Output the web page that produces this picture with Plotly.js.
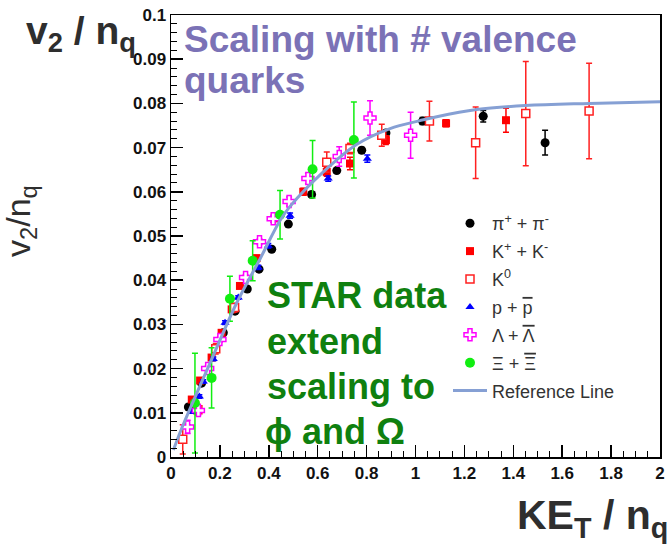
<!DOCTYPE html>
<html>
<head>
<meta charset="utf-8">
<script src="https://cdn.plot.ly/plotly-3.0.1.min.js"></script>
<style>html,body{margin:0;padding:0;background:#fff;}#chart{width:672px;height:548px;}</style>
</head>
<body>
<div id="chart"></div>
<script>
// ---- data ----
const pionX = [0.071, 0.125, 0.214, 0.262, 0.312, 0.360, 0.412, 0.480, 0.575, 0.678, 0.780, 0.879, 1.029, 1.277, 1.530];
const pionY = [0.0113, 0.0167, 0.0281, 0.0330, 0.0380, 0.0425, 0.0470, 0.0527, 0.0594, 0.0648, 0.0694, 0.0733, 0.0760, 0.0771, 0.0711];
const pionErr = [0.0004, 0.0004, 0.0004, 0.0004, 0.0004, 0.0004, 0.0004, 0.0004, 0.0005, 0.0005, 0.0006, 0.0006, 0.0008, 0.0013, 0.0028];

const kchX = [0.085, 0.119, 0.166, 0.207, 0.248, 0.282, 0.350, 0.432, 0.541, 0.637, 0.732, 0.879, 1.125, 1.370];
const kchY = [0.0130, 0.0173, 0.0225, 0.0281, 0.0334, 0.0387, 0.0450, 0.0540, 0.0600, 0.0645, 0.0664, 0.0717, 0.0755, 0.0762];
const kchErr = [0.0004, 0.0004, 0.0004, 0.0004, 0.0004, 0.0005, 0.0005, 0.0006, 0.0008, 0.0010, 0.0014, 0.0010, 0.0008, 0.0027];

const k0X = [0.048, 0.110, 0.183, 0.260, 0.637, 0.732, 0.862, 1.057, 1.246, 1.451, 1.710];
const k0Y = [0.0040, 0.0107, 0.0245, 0.0338, 0.0667, 0.0698, 0.0728, 0.0760, 0.0711, 0.0777, 0.0783];
const k0Err = [0.0033, 0.0012, 0.0012, 0.0010, 0.0023, 0.0012, 0.0025, 0.0045, 0.0081, 0.0118, 0.0108];

const protX = [0.065, 0.085, 0.116, 0.132, 0.173, 0.221, 0.275, 0.357, 0.398, 0.487, 0.643, 0.803];
const protY = [0.0075, 0.0103, 0.0137, 0.0171, 0.0222, 0.0304, 0.0361, 0.0429, 0.0478, 0.0546, 0.0630, 0.0675];
const protErr = [0.0004, 0.0004, 0.0004, 0.0004, 0.0004, 0.0004, 0.0004, 0.0005, 0.0005, 0.0006, 0.0006, 0.0008];

const lamX = [0.068, 0.112, 0.150, 0.200, 0.305, 0.362, 0.418, 0.483, 0.560, 0.688, 0.814, 0.980];
const lamY = [0.0068, 0.0105, 0.0200, 0.0266, 0.0406, 0.0487, 0.0539, 0.0578, 0.0630, 0.0680, 0.0767, 0.0728];
const lamErr = [0.0015, 0.0010, 0.0006, 0.0006, 0.0006, 0.0006, 0.0008, 0.0010, 0.0012, 0.0022, 0.0039, 0.0052];

const xiX = [0.098, 0.166, 0.241, 0.334, 0.446, 0.579, 0.748];
const xiY = [0.0122, 0.0179, 0.0358, 0.0444, 0.0548, 0.0651, 0.0717];
const xiErr = [0.0113, 0.0068, 0.0051, 0.0045, 0.0055, 0.0065, 0.0086];

const refX = [0.01, 0.044, 0.16, 0.269, 0.364, 0.446, 0.487, 0.623, 0.759, 0.896, 1.018, 1.087, 1.25, 1.45, 1.71, 2.0];
const refY = [0.0016, 0.0065, 0.0213, 0.0349, 0.0448, 0.0535, 0.0567, 0.0645, 0.0707, 0.0743, 0.0761, 0.0770, 0.0786, 0.0795, 0.0800, 0.0804];

const OL = s => '<span style="text-decoration:overline">' + s + '</span>';
const legendNames = ["\u03c0<sup>+</sup> + \u03c0<sup>-</sup>", "K<sup>+</sup> + K<sup>-</sup>", "K<sup>0</sup>",
  "p + " + OL("p"), "\u039b + " + OL("\u039b"), "\u039e + " + OL("\u039e"), "Reference Line"];

// ---- layout geometry ----
const L = 171, R = 660, T = 15, B = 457;
const ax = px => (px - L) / (R - L);
const ay = py => (B - py) / (B - T);
const FONT = "Liberation Sans, Arial, Helvetica, sans-serif";

function pts(x, y, err, name, marker, col, grp) {
  return {
    type: 'scatter', mode: 'markers', x: x, y: y, name: name, legendgroup: grp,
    marker: marker,
    error_y: {type: 'data', array: err, visible: true, color: col, thickness: 1.5, width: 3},
    cliponaxis: false
  };
}

const traces = [
  pts(pionX, pionY, pionErr, legendNames[0], {symbol: 'circle', size: 9, color: '#000000'}, '#000000', 'g1'),
  pts(kchX, kchY, kchErr, legendNames[1], {symbol: 'square', size: 8, color: '#ff0000'}, '#ff0000', 'g2'),
  pts(k0X, k0Y, k0Err, legendNames[2], {symbol: 'square', size: 8, color: '#ffffff', line: {color: '#ff2020', width: 1.5}}, '#ff2020', 'g3'),
  pts(protX, protY, protErr, legendNames[3], {symbol: 'triangle-up', size: 8, color: '#0000ff'}, '#0000ff', 'g4'),
  pts(lamX, lamY, lamErr, legendNames[4], {symbol: 'cross', size: 10, color: '#ffffff', line: {color: '#ff00ff', width: 1.5}}, '#ff00ff', 'g5'),
  pts(xiX, xiY, xiErr, legendNames[5], {symbol: 'circle', size: 10, color: '#11ee11'}, '#11ee11', 'g6'),
  {type: 'scatter', mode: 'lines', x: refX, y: refY, name: legendNames[6], legendgroup: 'g7',
   line: {color: '#86a0d4', width: 3, shape: 'spline', smoothing: 1}}
];

const purple = '#7b72b6', green = '#0f800f', dark = '#2e2e2e';
function ann(text, px, py, size, color, xanchor, extra) {
  return Object.assign({text: text, x: ax(px), y: ay(py), xref: 'paper', yref: 'paper',
    xanchor: xanchor || 'left', yanchor: 'middle', showarrow: false,
    font: {family: FONT, size: size, color: color}}, extra || {});
}

const annotations = [
  ann('<b>v<sub>2</sub> / n<sub>q</sub></b>', 24, 34, 39, dark),
  ann('<b>KE<sub>T</sub> / n<sub>q</sub></b>', 515, 518, 41, dark),
  ann('v<sub>2</sub>/n<sub>q</sub>', 20, 221, 34, dark, 'center', {textangle: -90}),
  ann('<b>Scaling with # valence</b>', 182, 39, 37, purple),
  ann('<b>quarks</b>', 182, 80, 37, purple),
  ann('<b>STAR data</b>', 265, 295, 36, green),
  ann('<b>extend</b>', 265, 341, 36, green),
  ann('<b>scaling to</b>', 265, 386, 36, green),
  ann('<b>\u03d5 and \u03a9</b>', 263, 431, 36, green)
];

const axisCommon = {
  showgrid: false, zeroline: false, showline: true, linecolor: '#000', linewidth: 1.5, mirror: true,
  ticks: 'inside', ticklen: 12, tickwidth: 1.5, tickcolor: '#000',
  tickfont: {family: FONT, size: 17, color: '#111', weight: 'bold'},
  fixedrange: true
};

const layout = {
  width: 672, height: 548,
  margin: {l: L, r: 672 - R, t: T, b: 548 - B, pad: 0},
  paper_bgcolor: '#ffffff', plot_bgcolor: '#ffffff',
  showlegend: true,
  legend: {x: ax(448), y: ay(205), xanchor: 'left', yanchor: 'top', itemwidth: 34,
    bgcolor: 'rgba(0,0,0,0)', borderwidth: 0, tracegroupgap: 1.5, traceorder: 'grouped',
    font: {family: FONT, size: 18, color: '#333'}},
  xaxis: Object.assign({}, axisCommon, {range: [0, 2], tick0: 0, dtick: 0.2,
    minor: {dtick: 0.05, ticks: 'inside', ticklen: 6, tickwidth: 1, tickcolor: '#000'}}),
  yaxis: Object.assign({}, axisCommon, {range: [0, 0.1], tick0: 0, dtick: 0.01,
    minor: {dtick: 0.002, ticks: 'inside', ticklen: 6, tickwidth: 1, tickcolor: '#000'}}),
  annotations: annotations
};

Plotly.newPlot('chart', traces, layout, {staticPlot: true, displayModeBar: false});
</script>
</body>
</html>
